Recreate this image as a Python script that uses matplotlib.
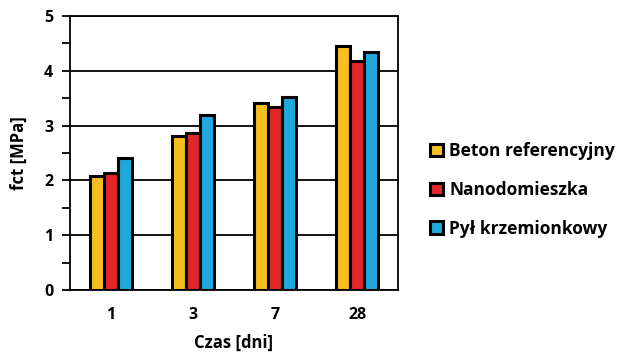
import numpy as np
import matplotlib.pyplot as plt

plt.rcParams['font.family'] = ['Open Sans', 'DejaVu Sans']
plt.rcParams['font.weight'] = 'bold'

days = ["1", "3", "7", "28"]
beton_ref = [2.08, 2.81, 3.42, 4.46]
nano = [2.14, 2.87, 3.34, 4.17]
pyl = [2.41, 3.19, 3.53, 4.35]
series_names = ["Beton referencyjny", "Nanodomieszka", "Pył krzemionkowy"]
colors = ["#f6be1f", "#e3262a", "#1fa8dc"]

fig = plt.figure(figsize=(6.28, 3.55), dpi=100)
ax = fig.add_axes([70 / 628, 65 / 355, 328 / 628, 274 / 355])

x = np.arange(len(days))
w = 0.167
for i, (vals, name, c) in enumerate(zip([beton_ref, nano, pyl], series_names, colors)):
    ax.bar(x + (i - 1) * w, vals, w, color=c, edgecolor="black", linewidth=2.2,
           label=name, zorder=3)

ax.set_xlim(-0.5, 3.5)
ax.set_ylim(0, 5)
ax.set_yticks(range(6))
ax.set_yticks(np.arange(0.5, 5, 1), minor=True)
ax.set_xticks(x)
ax.set_xticklabels(days)
ax.grid(axis="y", color="black", linewidth=1.3, zorder=0)
for s in ax.spines.values():
    s.set_linewidth(1.3)
ax.tick_params(axis="y", which="both", direction="out", length=6, width=1.3,
               labelsize=11.5, pad=6)
ax.tick_params(axis="x", length=0, labelsize=11.5, pad=12)

ax.set_ylabel("fct [MPa]", fontsize=12, fontweight="bold", labelpad=12)
ax.set_xlabel("Czas [dni]", fontsize=12, fontweight="bold", labelpad=8)

ax.legend(loc="center left", bbox_to_anchor=(1.05, 0.365), frameon=False,
          fontsize=12.5, handlelength=0.75, handleheight=0.75, handletextpad=0.35,
          labelspacing=1.2)

fig.savefig("out.png", dpi=100)
